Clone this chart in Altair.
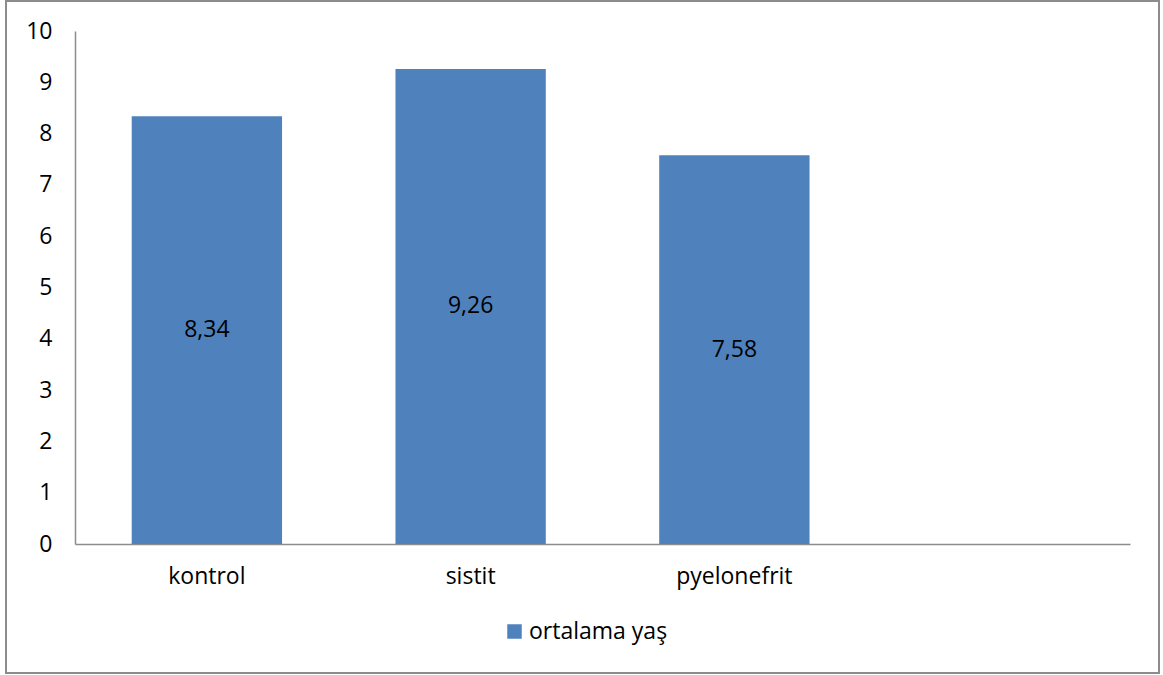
import altair as alt
import pandas as pd

categories = ["kontrol", "sistit", "pyelonefrit"]
axis_categories = ["kontrol", "sistit", "pyelonefrit", " "]
values = [8.34, 9.26, 7.58]
series_name = "ortalama yaş"
y_ticks = [0, 1, 2, 3, 4, 5, 6, 7, 8, 9, 10]

df = pd.DataFrame({"kategori": categories, "deger": values, "seri": [series_name] * len(categories)})

FONT = "Open Sans"
FS = 23
FSY = 23
W, H = 1055, 513

base = alt.Chart(df)

bars = base.mark_bar(color="#4F81BD").encode(
    x=alt.X("kategori:N", sort=axis_categories,
            scale=alt.Scale(domain=axis_categories, paddingInner=0.43, paddingOuter=0.215),
            axis=alt.Axis(title=None, labelAngle=0, labelFontSize=FS, labelFont=FONT,
                          labelColor="#000000", labelPadding=21, ticks=False,
                          domainColor="#8c8c8c", domainWidth=1.5)),
    y=alt.Y("deger:Q", scale=alt.Scale(domain=[0, 10], nice=False),
            axis=alt.Axis(title=None, values=y_ticks, grid=False, ticks=False,
                          labelFontSize=FSY, labelFont=FONT, labelColor="#000000",
                          labelPadding=23, domainColor="#8c8c8c", domainWidth=1.5)),
    fill=alt.Fill("seri:N", scale=alt.Scale(domain=[series_name], range=["#4F81BD"]),
                  legend=alt.Legend(title=None, orient="none", legendX=428, legendY=589,
                                    symbolType="square", symbolSize=210, symbolStrokeWidth=0,
                                    labelFontSize=FS, labelFont=FONT, labelColor="#000000",
                                    labelOffset=3)),
)

labels = base.transform_calculate(
    lbl="replace(format(datum.deger, '.2f'), '.', ',')",
    mid="datum.deger / 2",
).mark_text(font=FONT, fontSize=FS, color="#000000").encode(
    x=alt.X("kategori:N", sort=axis_categories),
    y=alt.Y("mid:Q"),
    text="lbl:N",
)

border = alt.Chart(pd.DataFrame({"a": [0]})).mark_rect(
    fill=None, stroke="#8c8c8c", strokeWidth=2
).encode(
    x=alt.value(-69), x2=alt.value(1084), y=alt.value(-30), y2=alt.value(642)
)

chart = alt.layer(border, bars, labels).properties(
    width=W, height=H,
    background="#ffffff",
    autosize=alt.AutoSizeParams(type="none"),
    padding={"left": 75, "top": 31, "right": 33, "bottom": 131},
).configure_view(stroke=None)

chart.save("out.html", embed_options={"renderer": "svg", "actions": False})
